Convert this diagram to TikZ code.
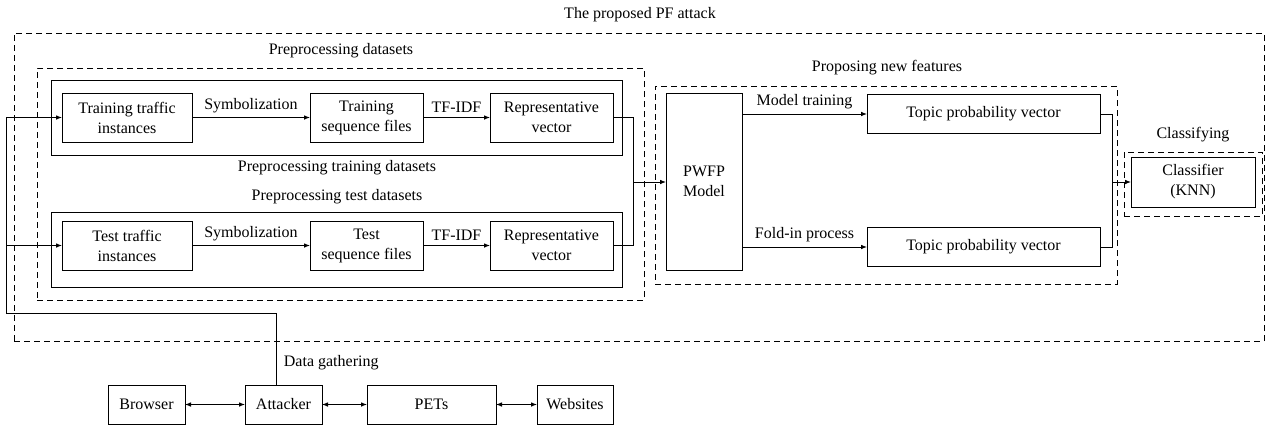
\documentclass[tikz,border=0pt]{standalone}
\usepackage{fontspec}
\setmainfont{Liberation Serif}
\usetikzlibrary{arrows.meta,positioning}

\begin{document}
\begin{tikzpicture}[x=0.75pt,y=-0.75pt,line width=0.7pt,
  font=\fontsize{12}{15}\selectfont,
  >={Latex[length=4.5pt,width=3.5pt]},
  block/.style={draw,rectangle,align=center,inner sep=0pt,outer sep=0pt,minimum height=36.75pt},
  frame/.style={draw,rectangle,inner sep=0pt,outer sep=0pt,minimum width=428.25pt,minimum height=56.25pt},
  grp/.style={draw,rectangle,inner sep=0pt,outer sep=0pt,dash pattern=on 4.5pt off 3pt}]

  \useasboundingbox (0,0) rectangle (1269,430);

  % outer group
  \node[grp,minimum width=937.5pt,minimum height=231pt] (attack) at (639,187) {};
  \node (attacklbl) at (640,15) {The proposed PF attack};

  % preprocessing
  \node[grp,minimum width=455.25pt,minimum height=174pt] (prep) at (340.5,184) {};
  \node (preplbl) at (341,51) {Preprocessing datasets};
  \node[frame] (trainset) at (336.5,117.5) {};
  \node (trainlbl) at (337,168) {Preprocessing training datasets};
  \node[frame] (testset) at (336.5,249.5) {};
  \node (testlbl) at (337,197) {Preprocessing test datasets};

  \node[block,minimum width=97.5pt] (trainIn) at (127,117.5) {Training traffic\\instances};
  \node[block,minimum width=84.75pt] (trainSeq) at (366.5,117.5) {Training\\sequence files};
  \node[block,minimum width=92.25pt] (trainRep) at (551.5,117.5) {Representative\\vector};
  \node[block,minimum width=97.5pt] (testIn) at (127,245.5) {Test traffic\\instances};
  \node[block,minimum width=84.75pt] (testSeq) at (366.5,245.5) {Test\\sequence files};
  \node[block,minimum width=92.25pt] (testRep) at (551.5,245.5) {Representative\\vector};

  \draw[->] (trainIn) -- node[above] {Symbolization} (trainSeq);
  \draw[->] (trainSeq) -- node[above] {TF-IDF} (trainRep);
  \draw[->] (testIn) -- node[above] {Symbolization} (testSeq);
  \draw[->] (testSeq) -- node[above] {TF-IDF} (testRep);

  % new features
  \node[grp,minimum width=346.5pt,minimum height=148.5pt] (propgrp) at (886,185) {};
  \node (proplbl) at (887,68) {Proposing new features};
  \node[block,minimum width=57pt,minimum height=132.75pt] (pwfp) at (704,181.5) {PWFP\\Model};
  \node[block,minimum width=174.75pt,minimum height=29.25pt] (topicA) at (983.5,114) {Topic probability vector};
  \node[block,minimum width=174.75pt,minimum height=29.25pt] (topicB) at (983.5,247) {Topic probability vector};

  \coordinate (jin) at (633,182);
  \draw (trainRep) -| (jin);
  \draw (testRep) -| (jin);
  \draw[->] (jin) -- (jin -| pwfp.west);

  \draw[->] (pwfp.east |- topicA) -- node[above] {Model training} (topicA);
  \draw[->] (pwfp.east |- topicB) -- node[above] {Fold-in process} (topicB);

  % classifying
  \node[grp,minimum width=103.5pt,minimum height=48pt] (classgrp) at (1193,184) {};
  \node (classlbl) at (1193,135) {Classifying};
  \node[block,minimum width=93pt,minimum height=37.5pt] (knn) at (1193,182) {Classifier\\(KNN)};

  \coordinate (jout) at (1112,182);
  \draw (topicA) -| (jout);
  \draw (topicB) -| (jout);
  \draw[->] (jout) -- (jout -| knn.west);

  % data gathering
  \node[block,minimum width=57.75pt,minimum height=29.25pt] (browser) at (146.5,404.5) {Browser};
  \node[block,minimum width=57.75pt,minimum height=29.25pt] (attacker) at (283.5,404.5) {Attacker};
  \node[block,minimum width=96.75pt,minimum height=29.25pt] (pets) at (431.5,404.5) {PETs};
  \node[block,minimum width=57pt,minimum height=29.25pt] (sites) at (575,404.5) {Websites};

  \draw[<->] (browser) -- (attacker);
  \draw[<->] (attacker) -- (pets);
  \draw[<->] (pets) -- (sites);

  \coordinate (fa) at (276,313);
  \coordinate (fd) at (6,313);
  \draw (attacker.north -| fa) -- (fa) -- (fd);
  \draw[->] (fd) |- (trainIn);
  \draw[->] (fd |- testIn) -- (testIn);
  \node[anchor=west] (gath) at (279,363) {Data gathering};
\end{tikzpicture}
\end{document}
